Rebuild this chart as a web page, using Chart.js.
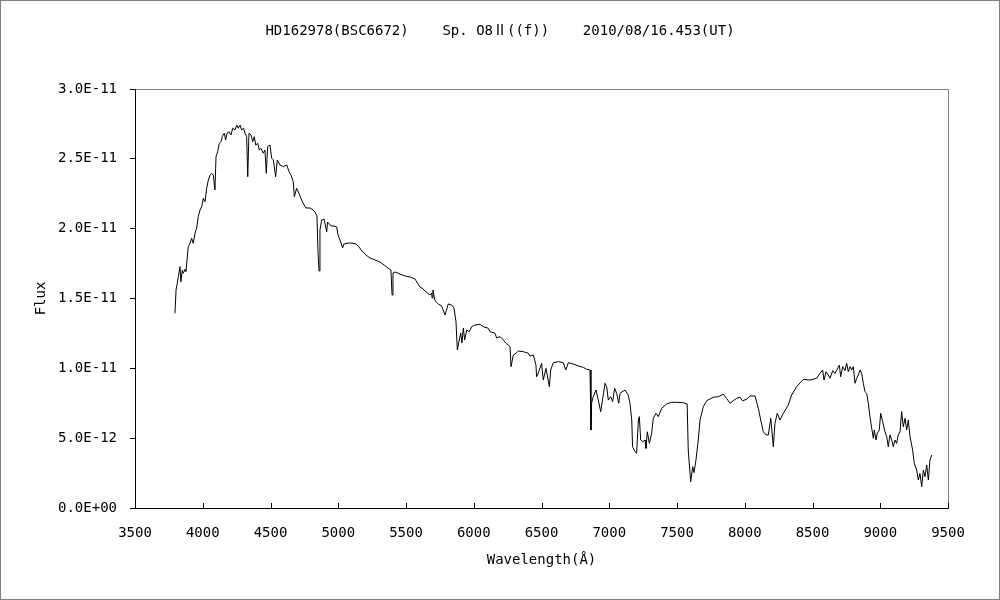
<!DOCTYPE html>
<html>
<head>
<meta charset="UTF-8" />
<script src="https://cdn.jsdelivr.net/npm/chart.js"></script>
<style>
  html, body { margin: 0; padding: 0; background: #fff; }
  canvas { display: block; }
</style>
</head>
<body>
<canvas id="spectrum" width="1000" height="600"></canvas>
<script>
// 波長 (Å)
const wavelength = [
  3795, 3803, 3812, 3820, 3832, 3839, 3849, 3856, 3869, 3876, 3884, 3893, 3906, 3918, 3930, 3943, 3955, 3967, 3980, 3992,
  4004, 4017, 4029, 4041, 4054, 4066, 4078, 4090, 4098, 4110, 4122, 4135, 4144, 4159, 4169, 4179, 4194, 4208, 4221, 4238,
  4251, 4262, 4275, 4287, 4302, 4312, 4324, 4332, 4341, 4356, 4369, 4380, 4391, 4406, 4417, 4430, 4447, 4459, 4469, 4479,
  4496, 4509, 4521, 4538, 4550, 4570, 4594, 4620, 4637, 4651, 4668, 4676, 4693, 4710, 4730, 4740, 4762, 4792, 4814, 4828,
  4843, 4850, 4858, 4865, 4878, 4895, 4915, 4921, 4947, 4969, 4989, 4998, 5013, 5032, 5042, 5072, 5101, 5131, 5153, 5175,
  5205, 5234, 5271, 5308, 5338, 5367, 5389, 5397, 5404, 5419, 5456, 5493, 5530, 5566, 5589, 5603, 5618, 5648, 5677, 5690,
  5692, 5699, 5714, 5738, 5763, 5788, 5812, 5837, 5854, 5869, 5879, 5893, 5904, 5913, 5923, 5933, 5948, 5967, 5985, 6009,
  6046, 6070, 6107, 6120, 6157, 6169, 6194, 6218, 6238, 6255, 6268, 6275, 6292, 6312, 6329, 6366, 6403, 6415, 6440, 6459,
  6464, 6476, 6501, 6513, 6533, 6558, 6568, 6587, 6624, 6661, 6679, 6698, 6735, 6772, 6809, 6833, 6858, 6865, 6870, 6882,
  6902, 6919, 6937, 6952, 6969, 6981, 6993, 7011, 7025, 7040, 7055, 7070, 7079, 7116, 7140, 7153, 7166, 7172, 7190, 7202,
  7215, 7222, 7232, 7247, 7264, 7271, 7281, 7296, 7313, 7325, 7345, 7362, 7387, 7424, 7461, 7498, 7547, 7575, 7583, 7601,
  7616, 7625, 7640, 7657, 7670, 7694, 7719, 7768, 7805, 7842, 7866, 7891, 7915, 7940, 7964, 7984, 8014, 8038, 8076, 8100,
  8118, 8137, 8157, 8174, 8192, 8211, 8223, 8240, 8260, 8285, 8321, 8346, 8383, 8432, 8482, 8531,
  8555, 8575, 8585, 8600, 8617, 8629, 8649, 8666, 8683, 8698,
  8708, 8723, 8740, 8752, 8764, 8777, 8789, 8801, 8814, 8826,
  8838, 8851, 8863, 8875, 8887, 8900, 8912, 8924, 8937, 8949,
  8956, 8969, 8978, 8993, 9003, 9018, 9035, 9048, 9059, 9072,
  9085, 9096, 9109, 9121, 9133, 9146, 9158, 9170, 9183, 9195,
  9207, 9220, 9239, 9251, 9269, 9281, 9293, 9306, 9318, 9330,
  9343, 9355, 9367, 9380
];

// Flux (単位 1E-11)
const fluxE11 = [
  1.394, 1.561, 1.609, 1.656, 1.728, 1.620, 1.704, 1.680, 1.709, 1.692, 1.776, 1.871, 1.895, 1.931, 1.895, 1.967, 2.003, 2.086, 2.134, 2.157,
  2.217, 2.193, 2.289, 2.348, 2.384, 2.396, 2.384, 2.277, 2.515, 2.551, 2.611, 2.623, 2.659, 2.683, 2.635, 2.683, 2.694, 2.671, 2.719, 2.707,
  2.742, 2.719, 2.742, 2.707, 2.719, 2.683, 2.659, 2.372, 2.683, 2.671, 2.623, 2.659, 2.599, 2.611, 2.563, 2.575, 2.540, 2.563, 2.396, 2.587,
  2.599, 2.504, 2.492, 2.372, 2.492, 2.456, 2.444, 2.456, 2.408, 2.384, 2.336, 2.229, 2.289, 2.253, 2.205, 2.184, 2.148, 2.148, 2.134, 2.119,
  2.091, 1.847, 1.697, 1.990, 2.062, 2.069, 1.978, 2.048, 2.019, 2.019, 2.012, 1.955, 1.919, 1.862, 1.890, 1.897, 1.897, 1.890, 1.869, 1.840,
  1.811, 1.790, 1.776, 1.761, 1.740, 1.718, 1.704, 1.525, 1.683, 1.690, 1.675, 1.661, 1.654, 1.640, 1.604, 1.582, 1.575, 1.547, 1.525, 1.539,
  1.504, 1.561, 1.484, 1.461, 1.446, 1.382, 1.461, 1.453, 1.432, 1.334, 1.131, 1.203, 1.253, 1.181, 1.289, 1.203, 1.274, 1.262, 1.298, 1.310,
  1.315, 1.298, 1.287, 1.262, 1.251, 1.217, 1.227, 1.203, 1.179, 1.167, 1.155, 1.012, 1.095, 1.108, 1.124, 1.119, 1.108, 1.088, 1.095, 1.024,
  0.940, 0.964, 1.036, 0.916, 1.000, 0.869, 0.988, 1.040, 1.048, 1.040, 0.988, 1.040, 1.031, 1.017, 1.007, 0.993, 0.988, 0.558, 0.752, 0.797,
  0.845, 0.773, 0.690, 0.785, 0.893, 0.869, 0.773, 0.797, 0.761, 0.857, 0.821, 0.750, 0.821, 0.845, 0.809, 0.750, 0.630, 0.439, 0.403, 0.392,
  0.630, 0.654, 0.487, 0.475, 0.487, 0.427, 0.546, 0.463, 0.535, 0.642, 0.678, 0.654, 0.714, 0.745, 0.757, 0.757, 0.754, 0.745, 0.415, 0.188,
  0.296, 0.253, 0.344, 0.487, 0.630, 0.725, 0.768, 0.793, 0.797, 0.814, 0.785, 0.750, 0.768, 0.785, 0.793, 0.768, 0.778, 0.802, 0.802, 0.714,
  0.630, 0.546, 0.523, 0.523, 0.642, 0.439, 0.606, 0.678, 0.630, 0.678, 0.737, 0.809, 0.869, 0.921, 0.916, 0.929,
  0.964, 0.988, 0.916, 0.976, 0.952, 0.929, 0.983, 0.964, 0.993, 1.024,
  0.940, 1.012, 0.983, 1.036, 0.976, 1.012, 0.988, 1.012, 0.893, 0.929,
  0.952, 0.988, 0.964, 0.893, 0.833, 0.821, 0.750, 0.654, 0.571, 0.499,
  0.558, 0.487, 0.535, 0.558, 0.678, 0.618, 0.546, 0.510, 0.439, 0.523,
  0.487, 0.439, 0.487, 0.463, 0.523, 0.546, 0.690, 0.582, 0.642, 0.558,
  0.630, 0.510, 0.415, 0.320, 0.272, 0.200, 0.248, 0.153, 0.272, 0.224,
  0.308, 0.200, 0.344, 0.379
];

const xTicks = [3500, 4000, 4500, 5000, 5500, 6000, 6500, 7000, 7500, 8000, 8500, 9000, 9500];
const yTicks = [0, 0.5, 1.0, 1.5, 2.0, 2.5, 3.0];

const titleText = "HD162978(BSC6672)    Sp. O8Ⅱ((f))    2010/08/16.453(UT)";

const points = wavelength.map((w, i) => ({ x: w, y: fluxE11[i] }));

// 1E-11単位の値を "2.5E-11" 形式にする
function sciLabel(v) {
  const s = (v * 1e-11).toExponential(1);
  const [m, e] = s.split("e");
  const n = parseInt(e, 10);
  const sign = n < 0 ? "-" : "+";
  return m + "E" + sign + String(Math.abs(n)).padStart(2, "0");
}

// タイトル、上と右の枠(灰色)、X軸の内向き目盛り、外枠
const framePlugin = {
  id: "frame",
  afterDraw(chart) {
    const { ctx, chartArea: a, scales } = chart;
    ctx.save();
    ctx.fillStyle = "#000";
    ctx.font = "14px 'DejaVu Sans Mono', 'Noto Sans CJK JP', monospace";
    ctx.textAlign = "center";
    ctx.textBaseline = "middle";
    ctx.fillText(titleText, chart.width / 2, 31);

    ctx.lineWidth = 1;
    ctx.strokeStyle = "#808080";
    ctx.beginPath();
    ctx.moveTo(Math.round(a.left) + 0.5, Math.round(a.top) + 0.5);
    ctx.lineTo(Math.round(a.right) + 0.5, Math.round(a.top) + 0.5);
    ctx.lineTo(Math.round(a.right) + 0.5, Math.round(a.bottom) + 0.5);
    ctx.stroke();

    ctx.strokeStyle = "#000";
    ctx.beginPath();
    scales.x.ticks.forEach((t) => {
      const px = Math.round(scales.x.getPixelForValue(t.value)) + 0.5;
      ctx.moveTo(px, Math.round(a.bottom));
      ctx.lineTo(px, Math.round(a.bottom) - 5);
    });
    ctx.stroke();

    ctx.strokeStyle = "#808080";
    ctx.strokeRect(0.5, 0.5, chart.width - 1, chart.height - 1);
    ctx.restore();
  }
};

Chart.defaults.font.family = "'DejaVu Sans Mono', 'Noto Sans CJK JP', monospace";
Chart.defaults.font.size = 14;
Chart.defaults.color = "#000";

new Chart(document.getElementById("spectrum"), {
  type: "line",
  data: {
    datasets: [{
      data: points,
      borderColor: "#000",
      borderWidth: 1,
      pointRadius: 0,
      tension: 0,
      fill: false
    }]
  },
  options: {
    responsive: false,
    animation: false,
    events: [],
    layout: { padding: { left: 0, right: 52, top: 89, bottom: 0 } },
    plugins: {
      legend: { display: false },
      tooltip: { enabled: false },
      title: { display: false }
    },
    scales: {
      x: {
        type: "linear",
        min: 3500,
        max: 9500,
        afterBuildTicks: (s) => { s.ticks = xTicks.map((v) => ({ value: v })); },
        afterFit: (s) => { s.height = 92; },
        ticks: {
          callback: (v) => String(v),
          maxRotation: 0,
          autoSkip: false,
          padding: 17,
          color: "#000"
        },
        grid: { drawOnChartArea: false, drawTicks: false },
        border: { display: true, color: "#000", width: 1 },
        title: {
          display: true,
          text: "Wavelength(Å)",
          color: "#000",
          font: { size: 14 },
          padding: { top: 0, bottom: 31 }
        }
      },
      y: {
        min: 0,
        max: 3.0,
        afterBuildTicks: (s) => { s.ticks = yTicks.map((v) => ({ value: v })); },
        afterFit: (s) => { s.width = 135; },
        ticks: {
          callback: (v) => sciLabel(v),
          padding: 13,
          color: "#000"
        },
        grid: { drawOnChartArea: false, drawTicks: true, tickLength: 5, color: "#000" },
        border: { display: true, color: "#000", width: 1 },
        title: {
          display: true,
          text: "Flux",
          color: "#000",
          font: { size: 14 },
          padding: { top: 33, bottom: 0 }
        }
      }
    }
  },
  plugins: [framePlugin]
});
</script>
</body>
</html>
